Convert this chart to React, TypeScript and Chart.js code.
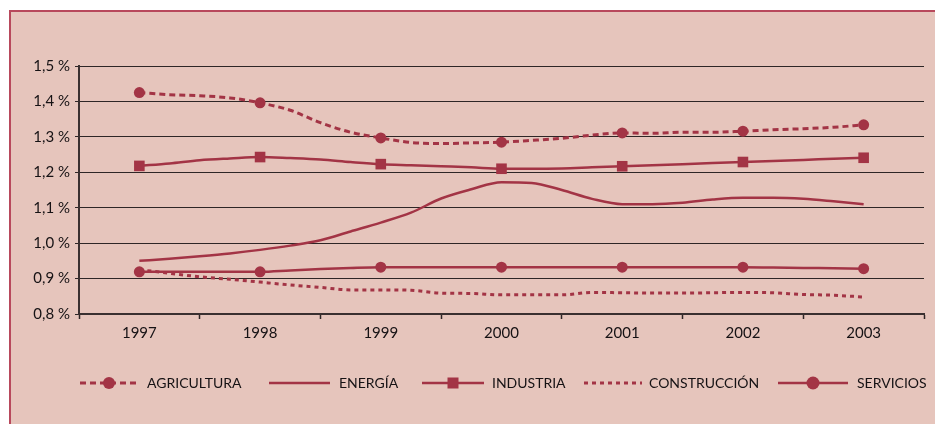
import React, { useEffect, useRef } from 'react';
import { Chart, registerables } from 'chart.js';

Chart.register(...registerables);

// ---- data (quarterly readings, markers at each year) ----
const YEARS = [1997, 1998, 1999, 2000, 2001, 2002, 2003];
const STEPS_PER_YEAR = 4;

const AGRICULTURA = [1.425, 1.419, 1.416, 1.41, 1.396, 1.375, 1.34, 1.313, 1.297, 1.284, 1.281, 1.283, 1.285, 1.29, 1.296, 1.305, 1.311, 1.31, 1.313, 1.313, 1.316, 1.32, 1.323, 1.327, 1.334];
const ENERGIA = [0.95, 0.956, 0.963, 0.971, 0.981, 0.993, 1.008, 1.033, 1.058, 1.086, 1.126, 1.152, 1.172, 1.17, 1.15, 1.125, 1.11, 1.11, 1.114, 1.123, 1.128, 1.128, 1.125, 1.118, 1.11];
const INDUSTRIA = [1.218, 1.225, 1.234, 1.239, 1.243, 1.24, 1.236, 1.229, 1.223, 1.22, 1.217, 1.214, 1.21, 1.21, 1.211, 1.214, 1.217, 1.22, 1.223, 1.226, 1.229, 1.232, 1.235, 1.238, 1.241];
const CONSTRUCCION = [0.925, 0.915, 0.905, 0.898, 0.89, 0.882, 0.875, 0.868, 0.868, 0.867, 0.859, 0.858, 0.854, 0.854, 0.854, 0.861, 0.86, 0.859, 0.859, 0.86, 0.861, 0.86, 0.855, 0.853, 0.848];
const SERVICIOS = [0.919, 0.919, 0.919, 0.919, 0.919, 0.923, 0.927, 0.93, 0.932, 0.932, 0.932, 0.932, 0.932, 0.932, 0.932, 0.932, 0.932, 0.932, 0.932, 0.932, 0.932, 0.931, 0.93, 0.929, 0.928];

const LABELS = ['AGRICULTURA', 'ENERGÍA', 'INDUSTRIA', 'CONSTRUCCIÓN', 'SERVICIOS'];
const Y_MIN = 0.8;
const Y_MAX = 1.5;
const Y_STEP = 0.1;

// ---- styles ----
const RED = '#a33445';
const FRAME = '#b8495c';
const BG = '#e6c5bc';
const GRID = '#2e2626';
const FONT = 'Lato, "DejaVu Sans", sans-serif';

type Style = { dash: number[]; width: number; marker: 'circle' | 'rect' | null; radius: number };
const STYLES: Style[] = [
  { dash: [6, 4], width: 3, marker: 'circle', radius: 5.5 },
  { dash: [], width: 2.5, marker: null, radius: 0 },
  { dash: [], width: 2.5, marker: 'rect', radius: 7.5 },
  { dash: [4, 4], width: 3, marker: null, radius: 0 },
  { dash: [], width: 2.5, marker: 'circle', radius: 5.5 },
];
const SERIES = [AGRICULTURA, ENERGIA, INDUSTRIA, CONSTRUCCION, SERVICIOS];

// legend layout (canvas px)
const LEGEND_Y = 383;
const LEGEND_POS = [
  { x0: 80, x1: 138, tx: 147 },
  { x0: 269, x1: 330, tx: 339 },
  { x0: 422, x1: 484, tx: 492 },
  { x0: 584, x1: 642, tx: 649 },
  { x0: 778, x1: 848, tx: 857 },
];

const legendPlugin = {
  id: 'customLegend',
  afterDraw(chart: any) {
    const ctx = chart.ctx as CanvasRenderingContext2D;
    ctx.save();
    LABELS.forEach((label, i) => {
      const s = STYLES[i];
      const p = LEGEND_POS[i];
      ctx.strokeStyle = RED;
      ctx.lineWidth = s.width;
      ctx.setLineDash(s.dash);
      ctx.beginPath();
      ctx.moveTo(p.x0, LEGEND_Y);
      ctx.lineTo(p.x1, LEGEND_Y);
      ctx.stroke();
      ctx.setLineDash([]);
      const cx = (p.x0 + p.x1) / 2;
      ctx.fillStyle = RED;
      if (s.marker === 'circle') {
        ctx.beginPath();
        ctx.arc(cx, LEGEND_Y, i === 4 ? 6.5 : 6, 0, Math.PI * 2);
        ctx.fill();
      } else if (s.marker === 'rect') {
        ctx.fillRect(cx - 5.5, LEGEND_Y - 5.5, 11, 11);
      }
      ctx.fillStyle = '#161214';
      ctx.font = `14px ${FONT}`;
      ctx.textAlign = 'left';
      ctx.textBaseline = 'middle';
      ctx.fillText(label, p.tx, LEGEND_Y);
    });
    ctx.restore();
  },
};

export default function App() {
  const ref = useRef<HTMLCanvasElement>(null);

  useEffect(() => {
    if (!ref.current) return;
    const toPoints = (arr: number[]) => arr.map((y, i) => ({ x: YEARS[0] + i / STEPS_PER_YEAR, y }));
    const datasets = SERIES.map((arr, i) => {
      const s = STYLES[i];
      return {
        label: LABELS[i],
        data: toPoints(arr),
        borderColor: RED,
        backgroundColor: RED,
        borderWidth: s.width,
        borderDash: s.dash,
        cubicInterpolationMode: 'monotone' as const,
        pointStyle: s.marker || 'circle',
        pointRadius: arr.map((_, k) => (s.marker && k % STEPS_PER_YEAR === 0 ? s.radius : 0)),
        pointBorderWidth: 0,
        pointHoverRadius: 0,
      };
    });

    const chart = new Chart(ref.current, {
      type: 'line',
      data: { datasets },
      plugins: [legendPlugin],
      options: {
        animation: false,
        responsive: false,
        layout: { padding: { top: 66, right: 11, left: 0, bottom: 0 } },
        plugins: { legend: { display: false }, tooltip: { enabled: false } },
        scales: {
          x: {
            type: 'linear',
            min: YEARS[0] - 0.5,
            max: YEARS[YEARS.length - 1] + 0.5,
            afterFit: (scale: any) => { scale.height = 110; },
            ticks: {
              stepSize: 0.5,
              autoSkip: false,
              maxRotation: 0,
              padding: 5,
              color: '#161214',
              font: { family: FONT, size: 15 },
              callback: (v: any) => (Number.isInteger(v) && YEARS.includes(v) ? String(v) : ''),
            },
            grid: {
              drawOnChartArea: false,
              tickLength: 5,
              tickColor: (c: any) => (c.tick && Number.isInteger(c.tick.value) ? 'rgba(0,0,0,0)' : GRID),
              tickWidth: 1.5,
            },
            border: { display: true, color: '#3a3030', width: 2 },
          },
          y: {
            min: Y_MIN,
            max: Y_MAX,
            afterFit: (scale: any) => { scale.width = 79; },
            ticks: {
              stepSize: Y_STEP,
              padding: 5,
              color: '#161214',
              font: { family: FONT, size: 15 },
              callback: (v: any) => Number(v).toFixed(1).replace('.', ',') + ' %',
            },
            grid: {
              color: GRID,
              lineWidth: 1,
              tickLength: 4,
              tickColor: GRID,
            },
            border: { display: true, color: '#3a3030', width: 2 },
          },
        },
      },
    });
    return () => chart.destroy();
  }, []);

  return (
    <div>
      <div
        style={{
          position: 'fixed',
          left: 9,
          top: 10,
          width: 2000,
          height: 2000,
          background: BG,
          borderLeft: `2px solid ${FRAME}`,
          borderTop: `2px solid ${FRAME}`,
        }}
      />
      <canvas
        ref={ref}
        width={935}
        height={424}
        style={{ position: 'fixed', left: 0, top: 0, width: 935, height: 424 }}
      />
    </div>
  );
}
